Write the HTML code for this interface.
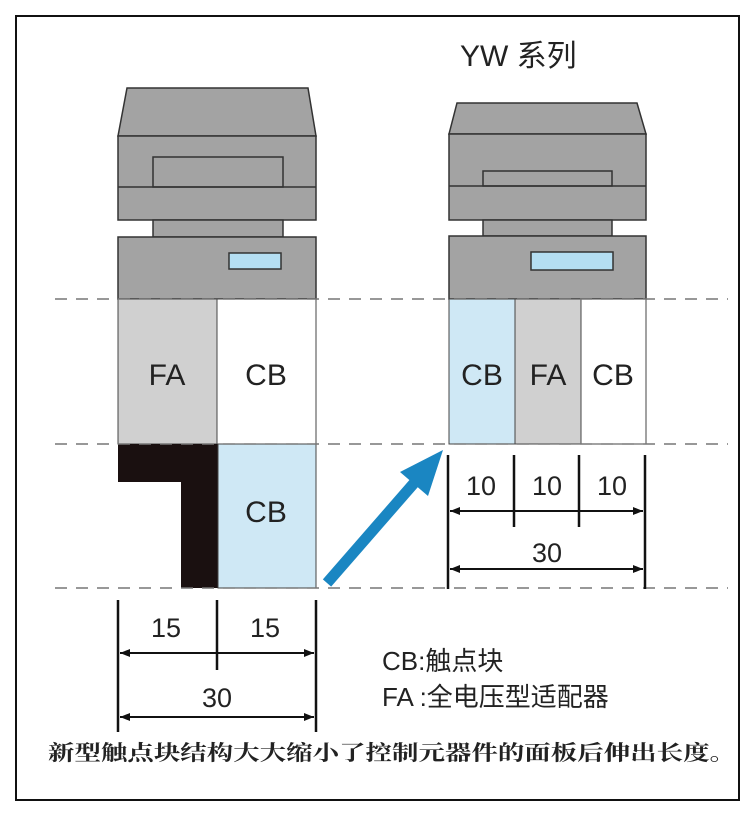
<!DOCTYPE html>
<html><head><meta charset="utf-8"><style>
html,body{margin:0;padding:0;background:#fff;}
svg{display:block;}
text{font-family:"Liberation Sans","Noto Sans CJK SC",sans-serif;fill:#222;}
</style></head><body>
<svg width="754" height="820" viewBox="0 0 754 820" xmlns="http://www.w3.org/2000/svg">
<defs>
<marker id="ar" viewBox="0 0 10 10" refX="10" refY="5" markerWidth="5" markerHeight="5" orient="auto-start-reverse"><path d="M0,1 L10,5 L0,9 z" fill="#111"/></marker>
</defs>
<rect x="16" y="16" width="723" height="784" fill="#fff" stroke="#111" stroke-width="2"/>
<text x="460" y="66" font-size="30">YW  系列</text>

<!-- left device -->
<g fill="#a3a3a3" stroke="#333" stroke-width="1.5">
<path d="M127,88 L308,88 L316,136 L118,136 Z"/>
<rect x="118" y="136" width="198" height="84"/>
<rect x="153" y="157" width="130" height="30"/>
<line x1="118" y1="187" x2="316" y2="187"/>
<rect x="153" y="220" width="130" height="17"/>
<rect x="118" y="237" width="198" height="62"/>
<rect x="229" y="253" width="52" height="16" fill="#b4def2"/>
</g>
<!-- right device -->
<g fill="#a3a3a3" stroke="#333" stroke-width="1.5">
<path d="M457,103 L637,103 L646,134 L449,134 Z"/>
<rect x="449" y="134" width="197" height="86"/>
<rect x="483" y="171" width="129" height="15"/>
<line x1="449" y1="186" x2="646" y2="186"/>
<rect x="483" y="220" width="129" height="16"/>
<rect x="449" y="236" width="197" height="63"/>
<rect x="531" y="252" width="82" height="18" fill="#b4def2"/>
</g>

<!-- left blocks -->
<rect x="118" y="299" width="99" height="145" fill="#d0d0d0" stroke="#444" stroke-width="1"/>
<rect x="217" y="299" width="99" height="145" fill="#fff" stroke="#444" stroke-width="1"/>
<path d="M118,444 L218,444 L218,588 L181,588 L181,482 L118,482 Z" fill="#1a1010"/>
<rect x="218" y="444" width="98" height="144" fill="#cfe8f5" stroke="#444" stroke-width="1"/>
<text x="167" y="385" font-size="30" text-anchor="middle">FA</text>
<text x="266" y="385" font-size="30" text-anchor="middle">CB</text>
<text x="266" y="522" font-size="30" text-anchor="middle">CB</text>

<!-- right blocks -->
<rect x="449" y="299" width="66" height="145" fill="#cfe8f5" stroke="#444" stroke-width="1"/>
<rect x="515" y="299" width="66" height="145" fill="#d0d0d0" stroke="#444" stroke-width="1"/>
<rect x="581" y="299" width="65" height="145" fill="#fff" stroke="#444" stroke-width="1"/>
<text x="482" y="385" font-size="30" text-anchor="middle">CB</text>
<text x="548" y="385" font-size="30" text-anchor="middle">FA</text>
<text x="613" y="385" font-size="30" text-anchor="middle">CB</text>

<!-- dashed lines -->
<g stroke="#777" stroke-width="1.5" stroke-dasharray="12,9">
<line x1="55" y1="299" x2="728" y2="299"/>
<line x1="55" y1="444" x2="728" y2="444"/>
<line x1="55" y1="588" x2="728" y2="588"/>
</g>

<!-- blue arrow -->
<line x1="327" y1="583" x2="415" y2="482" stroke="#1a86c2" stroke-width="11"/>
<path d="M443,450 L400,472 L428,496 Z" fill="#1a86c2"/>

<!-- right dims -->
<g stroke="#111" stroke-width="2.5">
<line x1="448" y1="455" x2="448" y2="589"/>
<line x1="514" y1="455" x2="514" y2="527"/>
<line x1="579" y1="455" x2="579" y2="527"/>
<line x1="645" y1="455" x2="645" y2="589"/>
</g>
<g stroke="#111" stroke-width="2">
<line x1="450" y1="511" x2="643" y2="511" marker-start="url(#ar)" marker-end="url(#ar)"/>
<line x1="450" y1="569" x2="643" y2="569" marker-start="url(#ar)" marker-end="url(#ar)"/>
</g>
<text x="481" y="495" font-size="27" text-anchor="middle">10</text>
<text x="547" y="495" font-size="27" text-anchor="middle">10</text>
<text x="612" y="495" font-size="27" text-anchor="middle">10</text>
<text x="547" y="562" font-size="27" text-anchor="middle">30</text>

<!-- left dims -->
<g stroke="#111" stroke-width="2.5">
<line x1="118" y1="600" x2="118" y2="732"/>
<line x1="217" y1="600" x2="217" y2="670"/>
<line x1="316" y1="600" x2="316" y2="732"/>
</g>
<g stroke="#111" stroke-width="2">
<line x1="120" y1="653" x2="314" y2="653" marker-start="url(#ar)" marker-end="url(#ar)"/>
<line x1="120" y1="717" x2="314" y2="717" marker-start="url(#ar)" marker-end="url(#ar)"/>
</g>
<text x="166" y="637" font-size="27" text-anchor="middle">15</text>
<text x="265" y="637" font-size="27" text-anchor="middle">15</text>
<text x="217" y="707" font-size="27" text-anchor="middle">30</text>

<!-- legend -->
<text x="382" y="670" font-size="26">CB:触点块</text>
<text x="382" y="706" font-size="26">FA :全电压型适配器</text>

<text x="48" y="760" font-size="21" font-weight="bold" textLength="688" lengthAdjust="spacingAndGlyphs" style="font-family:'Liberation Serif','Noto Serif CJK SC',serif">新型触点块结构大大缩小了控制元器件的面板后伸出长度。</text>
</svg>
</body></html>
